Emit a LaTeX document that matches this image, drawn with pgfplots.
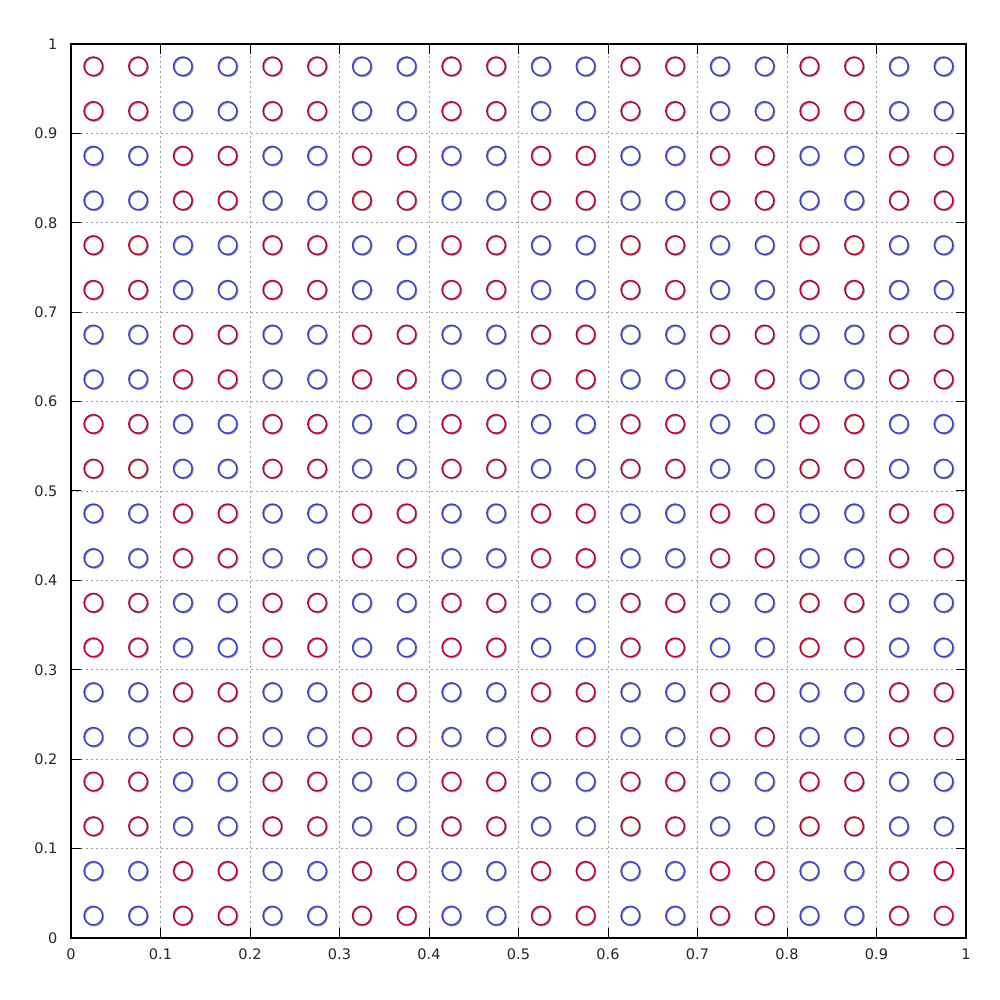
\documentclass[border=0pt]{standalone}
\usepackage{pgfplots}
\pgfplotsset{compat=1.18}
\usepackage{fontspec}
\setmainfont{DejaVu Sans}
\definecolor{myred}{RGB}{192,0,48}
\definecolor{myblue}{RGB}{64,64,208}
\definecolor{shadow}{RGB}{160,160,160}
\definecolor{gridc}{RGB}{160,160,160}
\begin{document}
\begin{tikzpicture}
\useasboundingbox (-71pt,-62pt) rectangle (929pt,938pt);
\begin{axis}[
  at={(0,0)}, anchor=south west,
  scale only axis, width=895pt, height=894pt,
  xmin=0, xmax=1, ymin=0, ymax=1,
  xtick={0,0.1,...,1.0}, ytick={0,0.1,...,1.0},
  xticklabels={0,0.1,0.2,0.3,0.4,0.5,0.6,0.7,0.8,0.9,1},
  yticklabels={0,0.1,0.2,0.3,0.4,0.5,0.6,0.7,0.8,0.9,1},
  tick align=inside, tick pos=both,
  major tick length=10pt,
  every tick/.style={black, line width=1pt},
  axis line style={black, line width=1.2pt},
  grid=major,
  major grid style={gridc, line width=0.9pt, dash pattern=on 2pt off 3pt},
  tick label style={font=\fontsize{14.5}{16}\selectfont, text=black!85},
  xticklabel style={yshift=-7pt},
  yticklabel style={xshift=-10pt},
  /pgf/number format/assume math mode=true,
]
\pgfplotsset{
  redpts/.style={only marks, mark=o, mark size=9.3pt, mark options={myred, line width=1.5pt}},
  bluepts/.style={only marks, mark=o, mark size=9.3pt, mark options={myblue, line width=1.5pt}},
  shadowpts/.style={only marks, mark=o, mark size=9.3pt, mark options={shadow, line width=1.3pt, xshift=0.9pt, yshift=-0.9pt}},
}
\pgfplotstableread{
x y
0.125 0.025
0.175 0.025
0.325 0.025
0.375 0.025
0.525 0.025
0.575 0.025
0.725 0.025
0.775 0.025
0.925 0.025
0.975 0.025
0.125 0.075
0.175 0.075
0.325 0.075
0.375 0.075
0.525 0.075
0.575 0.075
0.725 0.075
0.775 0.075
0.925 0.075
0.975 0.075
0.125 0.225
0.175 0.225
0.325 0.225
0.375 0.225
0.525 0.225
0.575 0.225
0.725 0.225
0.775 0.225
0.925 0.225
0.975 0.225
0.125 0.275
0.175 0.275
0.325 0.275
0.375 0.275
0.525 0.275
0.575 0.275
0.725 0.275
0.775 0.275
0.925 0.275
0.975 0.275
0.125 0.425
0.175 0.425
0.325 0.425
0.375 0.425
0.525 0.425
0.575 0.425
0.725 0.425
0.775 0.425
0.925 0.425
0.975 0.425
0.125 0.475
0.175 0.475
0.325 0.475
0.375 0.475
0.525 0.475
0.575 0.475
0.725 0.475
0.775 0.475
0.925 0.475
0.975 0.475
0.125 0.625
0.175 0.625
0.325 0.625
0.375 0.625
0.525 0.625
0.575 0.625
0.725 0.625
0.775 0.625
0.925 0.625
0.975 0.625
0.125 0.675
0.175 0.675
0.325 0.675
0.375 0.675
0.525 0.675
0.575 0.675
0.725 0.675
0.775 0.675
0.925 0.675
0.975 0.675
0.125 0.825
0.175 0.825
0.325 0.825
0.375 0.825
0.525 0.825
0.575 0.825
0.725 0.825
0.775 0.825
0.925 0.825
0.975 0.825
0.125 0.875
0.175 0.875
0.325 0.875
0.375 0.875
0.525 0.875
0.575 0.875
0.725 0.875
0.775 0.875
0.925 0.875
0.975 0.875
0.025 0.125
0.075 0.125
0.225 0.125
0.275 0.125
0.425 0.125
0.475 0.125
0.625 0.125
0.675 0.125
0.825 0.125
0.875 0.125
0.025 0.175
0.075 0.175
0.225 0.175
0.275 0.175
0.425 0.175
0.475 0.175
0.625 0.175
0.675 0.175
0.825 0.175
0.875 0.175
0.025 0.325
0.075 0.325
0.225 0.325
0.275 0.325
0.425 0.325
0.475 0.325
0.625 0.325
0.675 0.325
0.825 0.325
0.875 0.325
0.025 0.375
0.075 0.375
0.225 0.375
0.275 0.375
0.425 0.375
0.475 0.375
0.625 0.375
0.675 0.375
0.825 0.375
0.875 0.375
0.025 0.525
0.075 0.525
0.225 0.525
0.275 0.525
0.425 0.525
0.475 0.525
0.625 0.525
0.675 0.525
0.825 0.525
0.875 0.525
0.025 0.575
0.075 0.575
0.225 0.575
0.275 0.575
0.425 0.575
0.475 0.575
0.625 0.575
0.675 0.575
0.825 0.575
0.875 0.575
0.025 0.725
0.075 0.725
0.225 0.725
0.275 0.725
0.425 0.725
0.475 0.725
0.625 0.725
0.675 0.725
0.825 0.725
0.875 0.725
0.025 0.775
0.075 0.775
0.225 0.775
0.275 0.775
0.425 0.775
0.475 0.775
0.625 0.775
0.675 0.775
0.825 0.775
0.875 0.775
0.025 0.925
0.075 0.925
0.225 0.925
0.275 0.925
0.425 0.925
0.475 0.925
0.625 0.925
0.675 0.925
0.825 0.925
0.875 0.925
0.025 0.975
0.075 0.975
0.225 0.975
0.275 0.975
0.425 0.975
0.475 0.975
0.625 0.975
0.675 0.975
0.825 0.975
0.875 0.975
}\redtable
\pgfplotstableread{
x y
0.025 0.025
0.075 0.025
0.225 0.025
0.275 0.025
0.425 0.025
0.475 0.025
0.625 0.025
0.675 0.025
0.825 0.025
0.875 0.025
0.025 0.075
0.075 0.075
0.225 0.075
0.275 0.075
0.425 0.075
0.475 0.075
0.625 0.075
0.675 0.075
0.825 0.075
0.875 0.075
0.025 0.225
0.075 0.225
0.225 0.225
0.275 0.225
0.425 0.225
0.475 0.225
0.625 0.225
0.675 0.225
0.825 0.225
0.875 0.225
0.025 0.275
0.075 0.275
0.225 0.275
0.275 0.275
0.425 0.275
0.475 0.275
0.625 0.275
0.675 0.275
0.825 0.275
0.875 0.275
0.025 0.425
0.075 0.425
0.225 0.425
0.275 0.425
0.425 0.425
0.475 0.425
0.625 0.425
0.675 0.425
0.825 0.425
0.875 0.425
0.025 0.475
0.075 0.475
0.225 0.475
0.275 0.475
0.425 0.475
0.475 0.475
0.625 0.475
0.675 0.475
0.825 0.475
0.875 0.475
0.025 0.625
0.075 0.625
0.225 0.625
0.275 0.625
0.425 0.625
0.475 0.625
0.625 0.625
0.675 0.625
0.825 0.625
0.875 0.625
0.025 0.675
0.075 0.675
0.225 0.675
0.275 0.675
0.425 0.675
0.475 0.675
0.625 0.675
0.675 0.675
0.825 0.675
0.875 0.675
0.025 0.825
0.075 0.825
0.225 0.825
0.275 0.825
0.425 0.825
0.475 0.825
0.625 0.825
0.675 0.825
0.825 0.825
0.875 0.825
0.025 0.875
0.075 0.875
0.225 0.875
0.275 0.875
0.425 0.875
0.475 0.875
0.625 0.875
0.675 0.875
0.825 0.875
0.875 0.875
0.125 0.125
0.175 0.125
0.325 0.125
0.375 0.125
0.525 0.125
0.575 0.125
0.725 0.125
0.775 0.125
0.925 0.125
0.975 0.125
0.125 0.175
0.175 0.175
0.325 0.175
0.375 0.175
0.525 0.175
0.575 0.175
0.725 0.175
0.775 0.175
0.925 0.175
0.975 0.175
0.125 0.325
0.175 0.325
0.325 0.325
0.375 0.325
0.525 0.325
0.575 0.325
0.725 0.325
0.775 0.325
0.925 0.325
0.975 0.325
0.125 0.375
0.175 0.375
0.325 0.375
0.375 0.375
0.525 0.375
0.575 0.375
0.725 0.375
0.775 0.375
0.925 0.375
0.975 0.375
0.125 0.525
0.175 0.525
0.325 0.525
0.375 0.525
0.525 0.525
0.575 0.525
0.725 0.525
0.775 0.525
0.925 0.525
0.975 0.525
0.125 0.575
0.175 0.575
0.325 0.575
0.375 0.575
0.525 0.575
0.575 0.575
0.725 0.575
0.775 0.575
0.925 0.575
0.975 0.575
0.125 0.725
0.175 0.725
0.325 0.725
0.375 0.725
0.525 0.725
0.575 0.725
0.725 0.725
0.775 0.725
0.925 0.725
0.975 0.725
0.125 0.775
0.175 0.775
0.325 0.775
0.375 0.775
0.525 0.775
0.575 0.775
0.725 0.775
0.775 0.775
0.925 0.775
0.975 0.775
0.125 0.925
0.175 0.925
0.325 0.925
0.375 0.925
0.525 0.925
0.575 0.925
0.725 0.925
0.775 0.925
0.925 0.925
0.975 0.925
0.125 0.975
0.175 0.975
0.325 0.975
0.375 0.975
0.525 0.975
0.575 0.975
0.725 0.975
0.775 0.975
0.925 0.975
0.975 0.975
}\bluetable
\addplot[shadowpts] table {\redtable};
\addplot[shadowpts] table {\bluetable};
\addplot[redpts] table {\redtable};
\addplot[bluepts] table {\bluetable};
\end{axis}
\end{tikzpicture}
\end{document}
